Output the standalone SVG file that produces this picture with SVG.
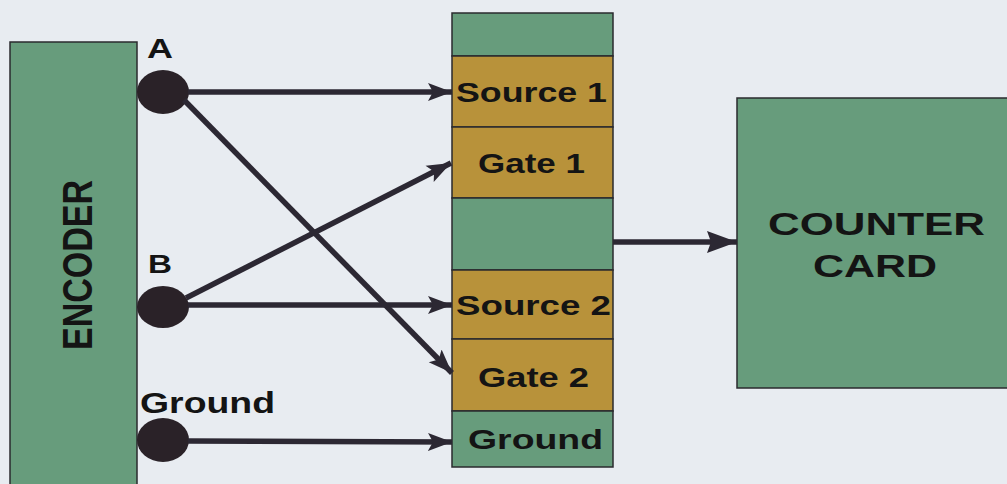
<svg xmlns="http://www.w3.org/2000/svg" width="1007" height="484" viewBox="0 0 1007 484">
<style>
.bg{fill:#e8ecf1}
.grn{fill:#679c7c;stroke:#2a2a2e;stroke-width:1.5}
.gld{fill:#b8923a;stroke:#2a2a2e;stroke-width:1.5}
.lbl{font-family:"Liberation Sans",Arial,sans-serif;font-weight:bold;fill:#141414}
.pin{fill:#2a2228}
.conn{stroke:#2c2833;stroke-width:5.5;fill:none}
</style>
<defs>
<marker id="ah" markerUnits="userSpaceOnUse" markerWidth="26" markerHeight="20" refX="24" refY="10" orient="auto">
<path d="M0,1 L24,10 L0,19 L5,10 Z" fill="#2c2833"/>
</marker>
<marker id="ahBig" markerUnits="userSpaceOnUse" markerWidth="32" markerHeight="24" refX="30" refY="12" orient="auto">
<path d="M0,1 L30,12 L0,23 L4,12 Z" fill="#2c2833"/>
</marker>
</defs>
<rect class="bg" x="0" y="0" width="1007" height="484"/>
<g id="encoder">
<rect class="grn" x="10" y="42" width="127" height="450"/>
<text class="lbl" font-size="34" text-anchor="middle" transform="translate(92,265) rotate(-90) scale(1,1.25)" textLength="170" lengthAdjust="spacingAndGlyphs">ENCODER</text>
</g>
<g id="pinA">
<ellipse class="pin" cx="163" cy="92" rx="26" ry="22"/>
<text class="lbl" x="147" y="58" font-size="27" textLength="26" lengthAdjust="spacingAndGlyphs">A</text>
</g>
<g id="pinB">
<ellipse class="pin" cx="163" cy="307" rx="26" ry="21"/>
<text class="lbl" x="148" y="273" font-size="26" textLength="24" lengthAdjust="spacingAndGlyphs">B</text>
</g>
<g id="pinGround">
<ellipse class="pin" cx="163" cy="440" rx="26" ry="22"/>
<text class="lbl" x="140" y="413" font-size="29" textLength="135" lengthAdjust="spacingAndGlyphs">Ground</text>
</g>
<g id="terminal">
<rect class="grn" x="452" y="13" width="161" height="43"/>
<rect class="gld" x="452" y="56" width="161" height="71"/>
<rect class="gld" x="452" y="127" width="161" height="71"/>
<rect class="grn" x="452" y="198" width="161" height="72"/>
<rect class="gld" x="452" y="270" width="161" height="69"/>
<rect class="gld" x="452" y="339" width="161" height="72"/>
<rect class="grn" x="452" y="411" width="161" height="56"/>
<text class="lbl" x="456" y="102" font-size="27" textLength="151" lengthAdjust="spacingAndGlyphs">Source 1</text>
<text class="lbl" x="478" y="173" font-size="27" textLength="107" lengthAdjust="spacingAndGlyphs">Gate 1</text>
<text class="lbl" x="456" y="315" font-size="27" textLength="155" lengthAdjust="spacingAndGlyphs">Source 2</text>
<text class="lbl" x="478" y="387" font-size="27" textLength="111" lengthAdjust="spacingAndGlyphs">Gate 2</text>
<text class="lbl" x="468" y="449" font-size="27" textLength="135" lengthAdjust="spacingAndGlyphs">Ground</text>
</g>
<g id="counter">
<rect class="grn" x="737" y="98" width="280" height="290"/>
<text class="lbl" x="768" y="235" font-size="32" textLength="217" lengthAdjust="spacingAndGlyphs">COUNTER</text>
<text class="lbl" x="813" y="277" font-size="32" textLength="124" lengthAdjust="spacingAndGlyphs">CARD</text>
</g>
<g id="connectors">
<line class="conn" x1="188" y1="92" x2="452" y2="92" marker-end="url(#ah)"/>
<line class="conn" x1="184" y1="100" x2="452" y2="373" marker-end="url(#ah)"/>
<line class="conn" x1="186" y1="298" x2="451" y2="163" marker-end="url(#ah)"/>
<line class="conn" x1="188" y1="305" x2="452" y2="305" marker-end="url(#ah)"/>
<line class="conn" x1="188" y1="441" x2="452" y2="442" marker-end="url(#ah)"/>
<line class="conn" x1="613" y1="242" x2="737" y2="242" marker-end="url(#ahBig)"/>
</g>
</svg>
